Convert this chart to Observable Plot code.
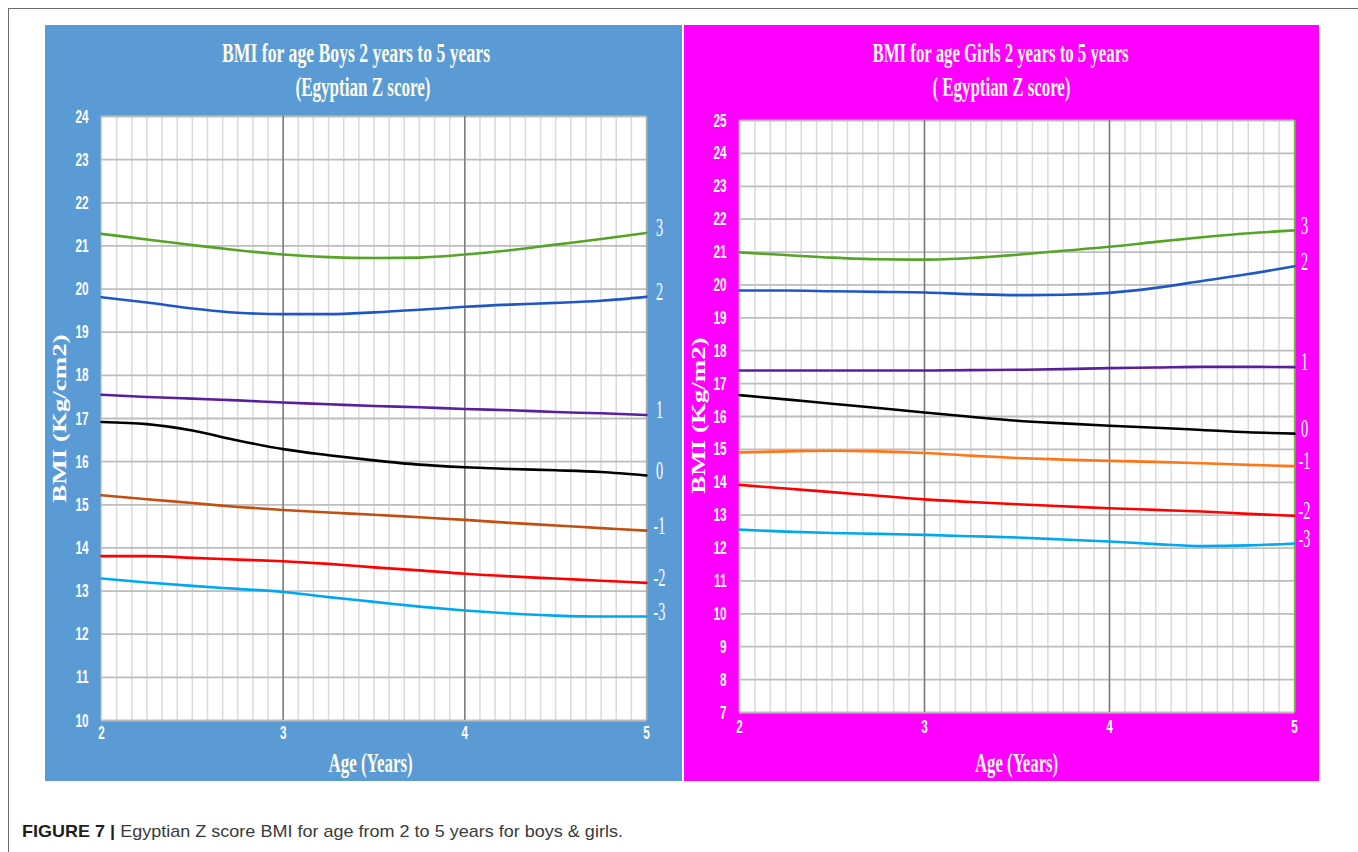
<!DOCTYPE html>
<html><head><meta charset="utf-8">
<script src="https://cdn.jsdelivr.net/npm/d3@7"></script>
<script src="https://cdn.jsdelivr.net/npm/@observablehq/plot@0.6"></script>
<style>
body{margin:0;background:#fff;}
#root{position:relative;width:1358px;height:852px;overflow:hidden;background:#fff;}
.frame{position:absolute;left:8px;top:8px;width:1360px;height:850px;border-left:1px solid #6b6b6b;border-top:1px solid #6b6b6b;box-sizing:border-box;}
.panel{position:absolute;top:25px;height:756px;}
.panel svg{position:absolute;left:0;top:75px;}
.lbl{position:absolute;white-space:nowrap;line-height:1;}
.ttl{font-family:"Liberation Serif","Times New Roman",serif;font-weight:bold;font-size:28px;color:#fffbea;}
.ytl{font-family:"Liberation Serif","Times New Roman",serif;font-weight:bold;font-size:19px;color:#ffffff;}
.cap{font-family:"Liberation Sans",Arial,sans-serif;font-size:17px;color:#3a3a3a;}
.cap b{color:#1e1e1e;}
</style></head>
<body><div id="root"><div class="frame"></div></div>
<script>
// ---------- data ----------
const ages = [2, 2.25, 2.5, 2.75, 3, 3.25, 3.5, 3.75, 4, 4.25, 4.5, 4.75, 5];
const xTicks = [2, 3, 4, 5];
const boysYTicks = [10, 11, 12, 13, 14, 15, 16, 17, 18, 19, 20, 21, 22, 23, 24];
const girlsYTicks = [7, 8, 9, 10, 11, 12, 13, 14, 15, 16, 17, 18, 19, 20, 21, 22, 23, 24, 25];
const zScores = ["3", "2", "1", "0", "-1", "-2", "-3"];

// Boys BMI (Kg/cm2) by Z score
const boysZ3  = [21.28, 21.15, 21.02, 20.90, 20.80, 20.74, 20.72, 20.73, 20.80, 20.90, 21.03, 21.16, 21.30];
const boysZ2  = [19.81, 19.69, 19.55, 19.45, 19.42, 19.42, 19.46, 19.52, 19.59, 19.64, 19.68, 19.73, 19.82];
const boysZ1  = [17.55, 17.50, 17.46, 17.42, 17.37, 17.33, 17.29, 17.26, 17.22, 17.19, 17.15, 17.12, 17.08];
const boysZ0  = [16.92, 16.87, 16.72, 16.49, 16.29, 16.15, 16.03, 15.93, 15.87, 15.83, 15.80, 15.76, 15.68];
const boysZm1 = [15.22, 15.13, 15.04, 14.95, 14.88, 14.82, 14.77, 14.71, 14.65, 14.58, 14.52, 14.46, 14.40];
const boysZm2 = [13.81, 13.81, 13.77, 13.73, 13.69, 13.63, 13.55, 13.48, 13.40, 13.34, 13.29, 13.24, 13.19];
const boysZm3 = [13.29, 13.20, 13.12, 13.05, 12.98, 12.86, 12.75, 12.64, 12.55, 12.48, 12.43, 12.41, 12.41];

// Girls BMI (Kg/m2) by Z score
const girlsZ3  = [20.99, 20.91, 20.83, 20.78, 20.77, 20.82, 20.92, 21.04, 21.16, 21.31, 21.45, 21.57, 21.66];
const girlsZ2  = [19.83, 19.83, 19.81, 19.79, 19.77, 19.72, 19.69, 19.70, 19.76, 19.91, 20.12, 20.33, 20.57];
const girlsZ1  = [17.40, 17.40, 17.40, 17.40, 17.40, 17.41, 17.42, 17.44, 17.47, 17.49, 17.51, 17.51, 17.50];
const girlsZ0  = [16.65, 16.52, 16.39, 16.26, 16.12, 15.99, 15.87, 15.79, 15.72, 15.66, 15.59, 15.52, 15.48];
const girlsZm1 = [14.91, 14.94, 14.96, 14.94, 14.89, 14.81, 14.74, 14.69, 14.65, 14.62, 14.58, 14.53, 14.49];
const girlsZm2 = [13.92, 13.81, 13.70, 13.59, 13.48, 13.40, 13.33, 13.27, 13.21, 13.16, 13.11, 13.04, 12.98];
const girlsZm3 = [12.56, 12.50, 12.46, 12.43, 12.40, 12.36, 12.32, 12.26, 12.20, 12.12, 12.06, 12.08, 12.14];

// ---------- styles ----------
const boysColors  = ["#55a428", "#1f58c6", "#5a1f9c", "#000000", "#c24e10", "#ff0000", "#00a8f0"];
const girlsColors = ["#55a428", "#1f58c6", "#5a1f9c", "#000000", "#ff7518", "#ff0000", "#00a8f0"];

const root = document.getElementById("root");

function squeeze(nodes, sx) {
  for (const t of nodes) {
    const tr = t.getAttribute("transform");
    if (tr) t.setAttribute("transform", tr + ` scale(${sx},1)`);
    else {
      const x = +t.getAttribute("x") || 0, y = +t.getAttribute("y") || 0;
      t.removeAttribute("x"); t.removeAttribute("y");
      t.setAttribute("transform", `translate(${x},${y}) scale(${sx},1)`);
    }
  }
}

function chart({values, colors, yTicks, width, height, mt, mr, mb, ml, zdx, xPad, edge}) {
  const series = zScores.map((z, k) => ({z, color: colors[k], rows: ages.map((a, i) => ({age: a, bmi: values[k][i]}))}));
  const ends = series.map(s => ({age: ages[ages.length - 1], bmi: s.rows[s.rows.length - 1].bmi, z: s.z}));
  const months = d3.range(24, 61).map(m => m / 12);
  const svg = Plot.plot({
    width, height, marginTop: mt, marginRight: mr, marginBottom: mb, marginLeft: ml,
    x: {domain: [2, 5]},
    y: {domain: [yTicks[0], yTicks[yTicks.length - 1]]},
    style: {background: "transparent", overflow: "visible", color: "white",
            fontFamily: "'Liberation Sans', Arial, sans-serif", fontSize: "19px", fontWeight: "bold"},
    marks: [
      Plot.frame({fill: "white", stroke: "none"}),
      Plot.ruleX(months, {stroke: "#dadada", strokeWidth: 1.5}),
      Plot.ruleY(yTicks, {stroke: "#bdbdbd", strokeWidth: 1.8}),
      Plot.ruleX([3, 4], {stroke: "#7a7a7a", strokeWidth: 1.5}),
      Plot.ruleX([5], {stroke: edge, strokeWidth: 1.2}),
      ...series.map(s => Plot.line(s.rows, {x: "age", y: "bmi", stroke: s.color, strokeWidth: 2.6, curve: "monotone-x"})),
      Plot.text(ends, {x: "age", y: "bmi", text: "z", dx: zdx, dy: -5, fill: "white",
        fontFamily: "'Liberation Serif', 'Times New Roman', serif", fontSize: 26, fontWeight: "normal", textAnchor: "middle"}),
      Plot.axisX({ticks: xTicks, tickSize: 0, tickPadding: xPad, tickFormat: d => String(d), label: null}),
      Plot.axisY({ticks: yTicks, tickSize: 0, tickPadding: 13, tickFormat: d => String(d), label: null})
    ]
  });
  squeeze(svg.querySelectorAll('g[aria-label="x-axis tick label"] text, g[aria-label="y-axis tick label"] text'), 0.62);
  squeeze(svg.querySelectorAll('g[aria-label="text"] text'), 0.55);
  return svg;
}

function panel(left, width, bg) {
  const p = document.createElement("div");
  p.className = "panel";
  p.style.left = left + "px"; p.style.width = width + "px"; p.style.background = bg;
  root.appendChild(p);
  return p;
}

const boysPanel = panel(45, 637, "#5b9bd5");
boysPanel.appendChild(chart({
  values: [boysZ3, boysZ2, boysZ1, boysZ0, boysZm1, boysZm2, boysZm3],
  colors: boysColors, yTicks: boysYTicks,
  width: 637, height: 681, mt: 16, mr: 36, mb: 61, ml: 56, zdx: 13, xPad: 5, edge: "#a8a8a8"
}));

const girlsPanel = panel(684, 635, "#ff00ff");
girlsPanel.appendChild(chart({
  values: [girlsZ3, girlsZ2, girlsZ1, girlsZ0, girlsZm1, girlsZm2, girlsZm3],
  colors: girlsColors, yTicks: girlsYTicks,
  width: 635, height: 681, mt: 20, mr: 25, mb: 69, ml: 55, zdx: 10, xPad: 7, edge: "#6fbf3f"
}));

function place(text, cx, cy, targetW, cls, rotate) {
  const el = document.createElement("div");
  el.className = "lbl " + cls;
  el.textContent = text;
  root.appendChild(el);
  const w = el.offsetWidth, h = el.offsetHeight;
  el.style.left = (cx - w / 2) + "px";
  el.style.top = (cy - h / 2) + "px";
  el.style.transformOrigin = "50% 50%";
  el.style.transform = (rotate ? "rotate(-90deg) " : "") + `scaleX(${targetW / w})`;
}

place("BMI for age Boys 2 years to 5 years", 356, 53, 268, "ttl");
place("(Egyptian Z score)", 363, 87, 135, "ttl");
place("BMI for age Girls 2 years to 5 years", 1000, 53, 256, "ttl");
place("( Egyptian Z score)", 1001, 87, 138, "ttl");
place("Age (Years)", 370, 763, 84, "ttl");
place("Age (Years)", 1016, 763, 83, "ttl");
place("BMI (Kg/cm2)", 59, 418, 169, "ytl", true);
place("BMI (Kg/m2)", 698, 415, 156, "ytl", true);

// caption
const cap = document.createElement("div");
cap.className = "lbl cap";
cap.innerHTML = "<b>FIGURE 7 |</b> Egyptian Z score BMI for age from 2 to 5 years for boys &amp; girls.";
root.appendChild(cap);
const cw = cap.offsetWidth, ch = cap.offsetHeight;
cap.style.left = "22px";
cap.style.top = (831 - ch / 2) + "px";
cap.style.transformOrigin = "0 50%";
cap.style.transform = `scaleX(${601 / cw})`;
</script>
</body></html>
